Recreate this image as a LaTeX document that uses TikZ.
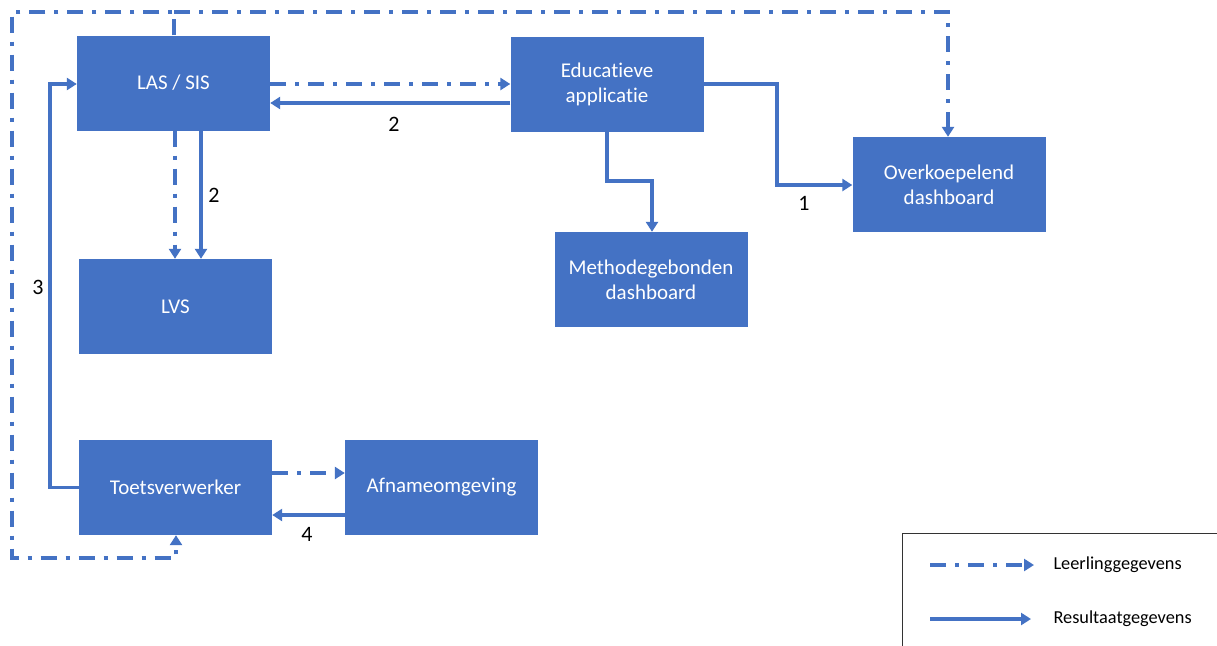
\documentclass[tikz,border=0pt]{standalone}
\usepackage{fontspec}
\setmainfont{Carlito}[Ligatures=NoCommon]
\usetikzlibrary{arrows.meta}
\definecolor{officeblue}{HTML}{4472C4}
\tikzset{
  sysbox/.style={fill=officeblue, draw=none, text=white, minimum width=193pt,
    minimum height=95pt, align=center, inner sep=2pt, font=\fontsize{21}{25}\selectfont},
  flow/.style={draw=officeblue, line width=3.3pt, -{Triangle[length=10pt,width=12pt]}},
  resflow/.style={flow},
  leerflow/.style={flow, dash pattern=on 16pt off 9pt on 4pt off 9pt},
  numlabel/.style={font=\fontsize{22}{26}\selectfont, text=black},
  legtext/.style={font=\fontsize{18.3}{22}\selectfont, anchor=west, text=black}
}
\begin{document}
\begin{tikzpicture}[x=1pt,y=-1pt]
\clip (0,0) rectangle (1217,645);
\fill[white] (0,0) rectangle (1217,645);

% systems
\node[sysbox] (las)   at (173.5,83)   {LAS / SIS};
\node[sysbox] (edu)   at (607,84)     {Educatieve\\applicatie};
\node[sysbox] (over)  at (949,184.5)  {Overkoepelend\\dashboard};
\node[sysbox] (meth)  at (651,279.5)  {Methodegebonden\\dashboard};
\node[sysbox] (lvs)   at (175.5,306.5){LVS};
\node[sysbox] (toets) at (175.5,487.5){Toetsverwerker};
\node[sysbox] (afn)   at (441.5,487.5){Afnameomgeving};

% routing points
\coordinate (top)   at (174,12);
\coordinate (tl)    at (12,12);
\coordinate (bl)    at (12,558);
\coordinate (tr)    at (948,12);
\coordinate (yA)    at (0,84);
\coordinate (yB)    at (0,103);
\coordinate (yC)    at (0,181);
\coordinate (yD)    at (0,185);
\coordinate (yE)    at (0,473);
\coordinate (yF)    at (0,515);
\coordinate (xA)    at (175,0);
\coordinate (xB)    at (201,0);
\coordinate (xC)    at (652,0);
\coordinate (xD)    at (777,0);
\coordinate (xE)    at (50,0);
\coordinate (xF)    at (176,0);

% pupil data loop around the systems
\draw[leerflow] (las.north -| top) -- (top) -- (tl) -- (bl) -- (bl -| xF) -- (toets.south -| xF);
\draw[leerflow] (top) -- (tr) -- (over.north -| tr);

% LAS / SIS <-> educational application
\draw[leerflow] (las.east |- yA) -- (edu.west |- yA);
\draw[resflow]  (edu.west |- yB) -- (las.east |- yB);
\node[numlabel] (n2a) at (394,124) {2};

% LAS / SIS -> LVS
\draw[leerflow] (las.south -| xA) -- (lvs.north -| xA);
\draw[resflow]  (las.south -| xB) -- (lvs.north -| xB);
\node[numlabel] (n2b) at (214,195) {2};

% educational application -> dashboards
\draw[resflow] (edu.south) -- (edu.south |- yC) -- (xC |- yC) -- (meth.north -| xC);
\draw[resflow] (edu.east |- yA) -- (xD |- yA) -- (xD |- yD) -- (over.west |- yD);
\node[numlabel] (n1) at (804,203) {1};

% test processor -> LAS / SIS
\draw[resflow] (toets.west) -- (toets.west -| xE) -- (xE |- yA) -- (las.west |- yA);
\node[numlabel] (n3) at (38,287) {3};

% test processor <-> test environment
\draw[leerflow] (toets.east |- yE) -- (afn.west |- yE);
\draw[resflow]  (afn.west |- yF) -- (toets.east |- yF);
\node[numlabel] (n4) at (307,534) {4};

% legend
\node[draw=black!80, line width=1.2pt, minimum width=330pt, minimum height=125pt,
  anchor=north west, inner sep=0pt] (legend) at (902,533) {};
\coordinate (la) at (930,565);
\coordinate (lb) at (1034,565);
\coordinate (lc) at (930,619);
\coordinate (ld) at (1031,619);
\draw[leerflow] (la) -- (lb);
\draw[resflow]  (lc) -- (ld);
\node[legtext] (lt1) at (1050,565) {Leerlinggegevens};
\node[legtext] (lt2) at (1050,619) {Resultaatgegevens};
\end{tikzpicture}
\end{document}
